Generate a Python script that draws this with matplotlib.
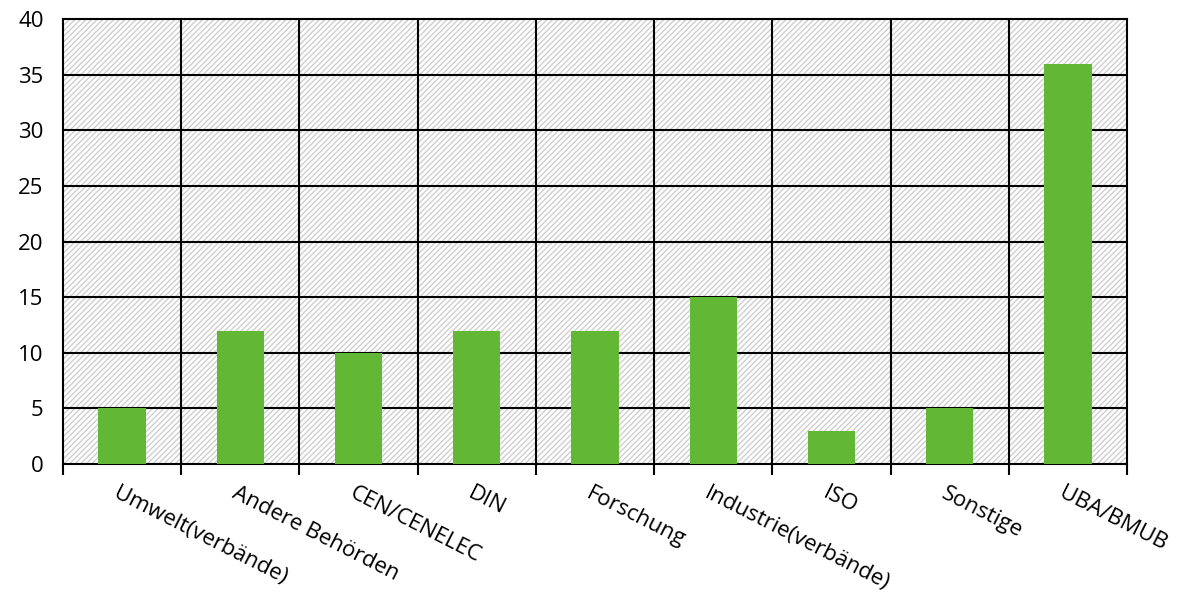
import matplotlib.pyplot as plt
import numpy as np
from matplotlib.patches import Rectangle

categories = ['Umwelt(verbände)', 'Andere Behörden', 'CEN/CENELEC', 'DIN', 'Forschung',
              'Industrie(verbände)', 'ISO', 'Sonstige', 'UBA/BMUB']
values = [5, 12, 10, 12, 12, 15, 3, 5, 36]

plt.rcParams['font.family'] = ['Open Sans', 'DejaVu Sans']
plt.rcParams['hatch.linewidth'] = 1.0

fig = plt.figure(figsize=(11.91, 5.99), dpi=100)
ax = fig.add_axes([63 / 1191, 1 - 464 / 599, (1127 - 63) / 1191, (464 - 19) / 599])

x = np.arange(len(categories))
# hatched background
ax.add_patch(Rectangle((0, 0), 1, 1, transform=ax.transAxes, facecolor='white',
                       edgecolor='#cfcfcf', linewidth=0, hatch='//////', zorder=0))
ax.bar(x, values, width=0.4, color='#62b835', zorder=3)

ax.set_xlim(-0.5, len(categories) - 0.5)
ax.set_ylim(0, 40)
ax.set_yticks(range(0, 41, 5))
for yv in range(5, 40, 5):
    ax.axhline(yv, color='black', lw=1.5, zorder=2)
for xv in np.arange(0.5, len(categories) - 0.5, 1):
    ax.axvline(xv, color='black', lw=1.5, zorder=2)

for s in ['left', 'bottom', 'right', 'top']:
    ax.spines[s].set_linewidth(1.5)
    ax.spines[s].set_color('black')

ax.set_xticks(np.arange(-0.5, len(categories), 1))
ax.set_xticklabels([])
ax.tick_params(axis='x', length=8, width=1.5, direction='out')
ax.tick_params(axis='y', length=0, labelsize=16, pad=14)

for xi, lab in zip(x, categories):
    ax.text(xi - 0.02, -1.7, lab, rotation=-27, rotation_mode='anchor', ha='left', va='top',
            fontsize=16)

fig.savefig('out.png', dpi=100)
